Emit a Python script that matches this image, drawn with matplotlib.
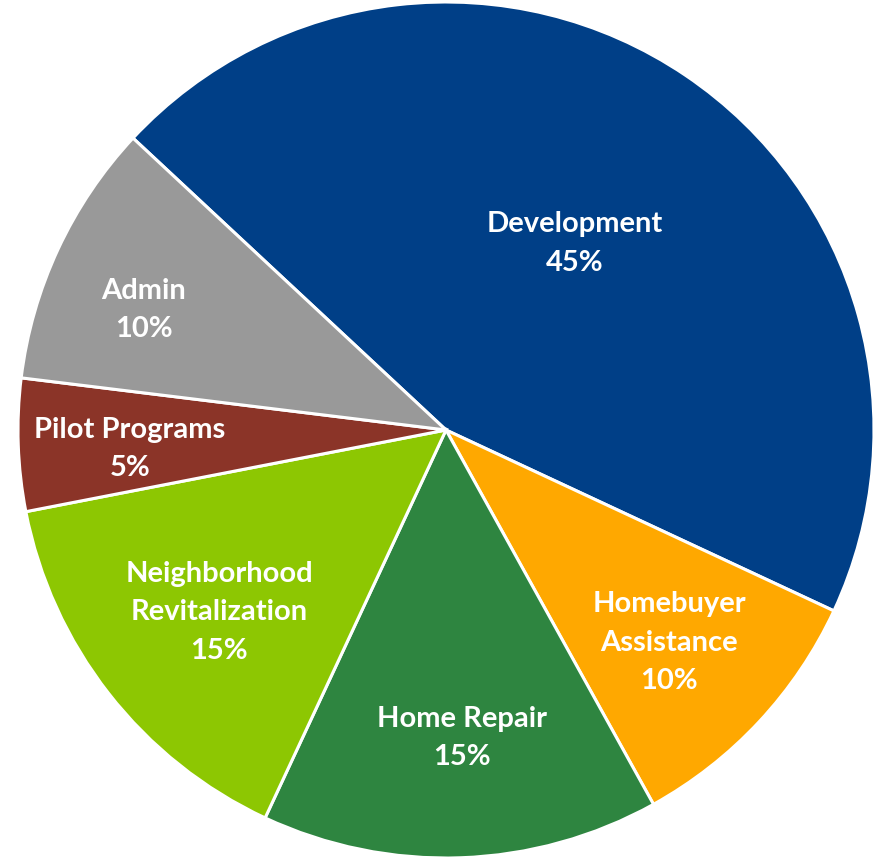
import numpy as np
import matplotlib

matplotlib.use("Agg")
import matplotlib.pyplot as plt

categories = ["Development", "Homebuyer\nAssistance", "Home Repair",
              "Neighborhood\nRevitalization", "Pilot Programs", "Admin"]
shares = [45, 10, 15, 15, 5, 10]
colors = ["#003F87", "#FFA800", "#2E8540", "#8DC702", "#8B3428", "#999999"]
# label placement: radial distance and small angular nudge (deg)
label_dist = [0.53, 0.72, 0.72, 0.68, 0.74, 0.76]
label_nudge = [-0.7, -0.6, 1.0, 0.8, 1.4, 3.4]

plt.rcParams["font.family"] = ["Lato", "DejaVu Sans"]

fig = plt.figure(figsize=(8.84, 8.58), dpi=100)
ax = fig.add_axes([18 / 884, 0 / 858, 856 / 884, 856 / 858])
wedges, _ = ax.pie(shares, colors=colors, startangle=137, counterclock=False,
                   wedgeprops=dict(edgecolor="white", linewidth=2.2))

for w, name, pct, d, nd in zip(wedges, categories, shares, label_dist, label_nudge):
    ang = np.deg2rad((w.theta1 + w.theta2) / 2 + nd)
    ax.text(d * np.cos(ang), d * np.sin(ang), f"{name}\n{pct}%",
            ha="center", va="center", color="white", fontsize=21,
            fontweight="bold", linespacing=1.58)

ax.set_xlim(-1, 1)
ax.set_ylim(-1, 1)
ax.set_aspect("equal")
fig.savefig("out.png", dpi=100)
